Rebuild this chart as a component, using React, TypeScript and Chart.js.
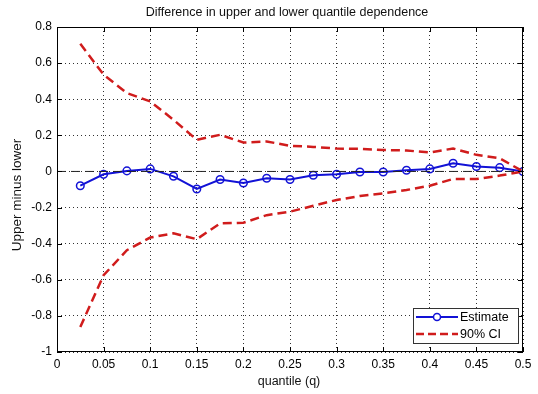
import React, { useEffect, useRef } from "react";
import { Chart, registerables } from "chart.js";

Chart.register(...registerables);

// Quantile levels q
const quantiles = [
  0.025, 0.05, 0.075, 0.1, 0.125, 0.15, 0.175, 0.2, 0.225, 0.25,
  0.275, 0.3, 0.325, 0.35, 0.375, 0.4, 0.425, 0.45, 0.475, 0.5,
];

// Upper minus lower quantile dependence, point estimate
const estimate = [
  -0.079, -0.016, 0.003, 0.014, -0.027, -0.097, -0.045, -0.064, -0.038, -0.045,
  -0.021, -0.016, -0.003, -0.003, 0.007, 0.014, 0.045, 0.027, 0.021, 0.0,
];

// 90% confidence band
const ciUpper = [
  0.707, 0.536, 0.434, 0.388, 0.286, 0.175, 0.203, 0.16, 0.166, 0.142,
  0.136, 0.127, 0.125, 0.119, 0.116, 0.105, 0.127, 0.092, 0.073, 0.0,
];
const ciLower = [
  -0.862, -0.575, -0.436, -0.366, -0.343, -0.375, -0.288, -0.284, -0.242, -0.223,
  -0.19, -0.158, -0.136, -0.121, -0.103, -0.079, -0.042, -0.042, -0.023, 0.0,
];

// Reference line at zero
const zeroLine = [
  { x: 0, y: 0 },
  { x: 0.5, y: 0 },
];

const titleText = "Difference in upper and lower quantile dependence";
const xTitle = "quantile (q)";
const yTitle = "Upper minus lower";
const legendLabels = ["Estimate", "90% CI"];

const BLUE = "#1212d6";
const RED = "#d01c1c";
const FONT = "'Liberation Sans', Arial, sans-serif";

const fmt = (v: number) => String(Number(Number(v).toFixed(2)));

// Box, inward tick marks, titles and the in-plot legend
const decorations = {
  id: "decorations",
  afterDraw(chart: any) {
    const { ctx, chartArea: a, scales } = chart;
    const xs = scales.x;
    const ys = scales.y;
    ctx.save();

    // axes box
    ctx.strokeStyle = "#000";
    ctx.lineWidth = 1;
    ctx.setLineDash([]);
    ctx.strokeRect(a.left + 0.5, a.top + 0.5, a.right - a.left - 1, a.bottom - a.top - 1);

    // inward ticks
    const tl = 5;
    ctx.beginPath();
    xs.ticks.forEach((t: any) => {
      const px = Math.round(xs.getPixelForValue(t.value)) + 0.5;
      ctx.moveTo(px, a.bottom);
      ctx.lineTo(px, a.bottom - tl);
      ctx.moveTo(px, a.top);
      ctx.lineTo(px, a.top + tl);
    });
    ys.ticks.forEach((t: any) => {
      const py = Math.round(ys.getPixelForValue(t.value)) + 0.5;
      ctx.moveTo(a.left, py);
      ctx.lineTo(a.left + tl, py);
      ctx.moveTo(a.right, py);
      ctx.lineTo(a.right - tl, py);
    });
    ctx.stroke();

    // titles
    ctx.fillStyle = "#111";
    ctx.textAlign = "center";
    ctx.textBaseline = "middle";
    ctx.font = `12.5px ${FONT}`;
    ctx.fillText(titleText, (a.left + a.right) / 2 - 3, 13);
    ctx.fillText(xTitle, (a.left + a.right) / 2 - 1, 382);
    ctx.save();
    ctx.translate(17, 195);
    ctx.rotate(-Math.PI / 2);
    ctx.font = `13.5px ${FONT}`;
    ctx.fillText(yTitle, 0, 0);
    ctx.restore();

    // legend
    const lw = 105;
    const lh = 35;
    const lx = a.right - 5 - lw;
    const ly = a.bottom - 9 - lh;
    ctx.fillStyle = "#fff";
    ctx.fillRect(lx, ly, lw, lh);
    ctx.strokeStyle = "#333";
    ctx.lineWidth = 1;
    ctx.strokeRect(lx + 0.5, ly + 0.5, lw, lh);

    const sx0 = lx + 3;
    const sx1 = lx + 45;
    const r1 = ly + 9;
    const r2 = ly + 26;

    ctx.strokeStyle = BLUE;
    ctx.lineWidth = 2;
    ctx.beginPath();
    ctx.moveTo(sx0, r1);
    ctx.lineTo(sx1, r1);
    ctx.stroke();
    ctx.lineWidth = 1.5;
    ctx.fillStyle = "#fff";
    ctx.beginPath();
    ctx.arc((sx0 + sx1) / 2, r1, 3.5, 0, Math.PI * 2);
    ctx.fill();
    ctx.stroke();

    ctx.strokeStyle = RED;
    ctx.lineWidth = 2.5;
    ctx.setLineDash([8, 4]);
    ctx.beginPath();
    ctx.moveTo(sx0, r2);
    ctx.lineTo(sx1, r2);
    ctx.stroke();
    ctx.setLineDash([]);

    ctx.fillStyle = "#000";
    ctx.font = `12.5px ${FONT}`;
    ctx.textAlign = "left";
    ctx.fillText(legendLabels[0], sx1 + 2, r1 + 1);
    ctx.fillText(legendLabels[1], sx1 + 2, r2 + 1);

    ctx.restore();
  },
};

export default function App() {
  const canvasRef = useRef<HTMLCanvasElement | null>(null);

  useEffect(() => {
    if (!canvasRef.current) return;
    const pts = (vals: number[]) => quantiles.map((q, i) => ({ x: q, y: vals[i] }));

    const chart = new Chart(canvasRef.current, {
      type: "line",
      data: {
        datasets: [
          {
            label: "zero",
            data: zeroLine,
            borderColor: "#222",
            borderWidth: 1,
            borderDash: [9, 5],
            pointRadius: 0,
          },
          {
            label: legendLabels[1],
            data: pts(ciUpper),
            borderColor: RED,
            borderWidth: 2.5,
            borderDash: [9, 5],
            pointRadius: 0,
          },
          {
            label: legendLabels[1] + " lower",
            data: pts(ciLower),
            borderColor: RED,
            borderWidth: 2.5,
            borderDash: [9, 5],
            pointRadius: 0,
          },
          {
            label: legendLabels[0],
            data: pts(estimate),
            borderColor: BLUE,
            borderWidth: 2,
            pointRadius: 3.8,
            pointBorderWidth: 1.5,
            pointBackgroundColor: "rgba(255,255,255,0)",
            pointBorderColor: BLUE,
          },
        ],
      },
      options: {
        responsive: false,
        animation: false,
        layout: { padding: { left: 0, top: 27, right: 15, bottom: 0 } },
        plugins: {
          legend: { display: false },
          title: { display: false },
          tooltip: { enabled: false },
        },
        scales: {
          x: {
            type: "linear",
            min: 0,
            max: 0.5,
            border: { display: false, dash: [1, 3] },
            grid: {
              color: "#333",
              lineWidth: 1,
              drawTicks: false,
            },
            ticks: {
              stepSize: 0.05,
              padding: 5,
              color: "#000",
              font: { family: FONT, size: 12 },
              callback: (v: any) => fmt(v),
              maxRotation: 0,
              autoSkip: false,
            },
            afterFit: (s: any) => {
              s.height = 42;
            },
          },
          y: {
            type: "linear",
            min: -1,
            max: 0.8,
            border: { display: false, dash: [1, 3] },
            grid: {
              color: "#333",
              lineWidth: 1,
              drawTicks: false,
            },
            ticks: {
              stepSize: 0.2,
              padding: 5,
              color: "#000",
              font: { family: FONT, size: 12 },
              callback: (v: any) => fmt(v),
            },
            afterFit: (s: any) => {
              s.width = 57;
            },
          },
        },
      },
      plugins: [decorations],
    } as any);

    return () => chart.destroy();
  }, []);

  return (
    <div
      style={{
        position: "fixed",
        left: 0,
        top: 0,
        width: 538,
        height: 394,
        background: "#fff",
      }}
    >
      <canvas ref={canvasRef} width={538} height={394} />
    </div>
  );
}
